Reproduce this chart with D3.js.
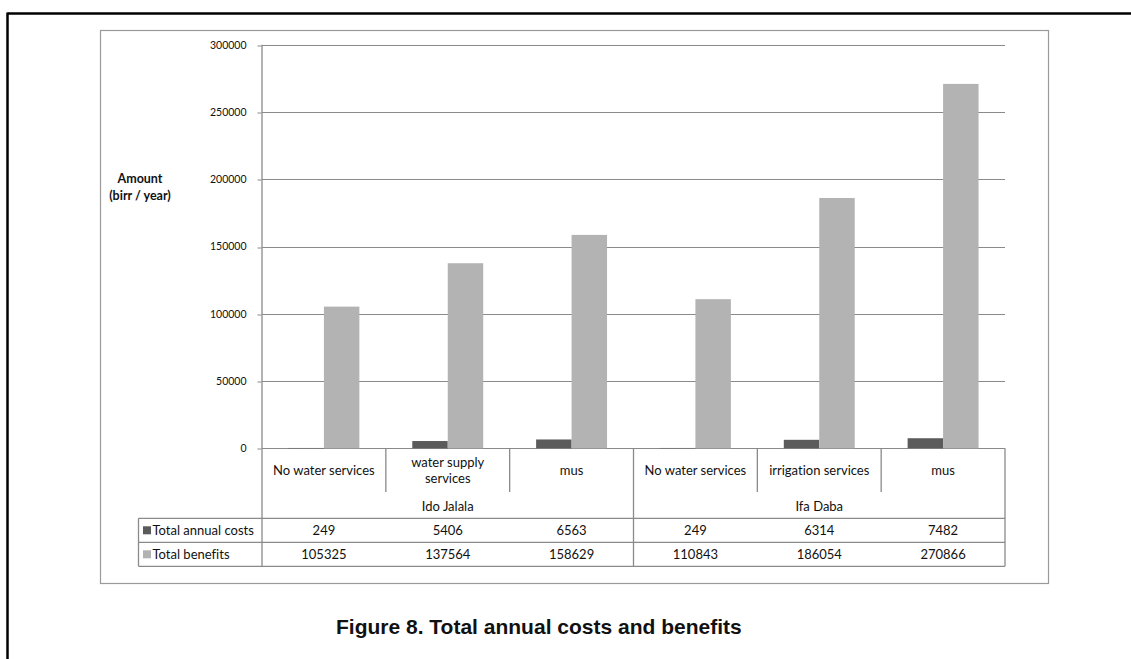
<!DOCTYPE html>
<html>
<head>
<meta charset="utf-8">
<script src="https://cdn.jsdelivr.net/npm/d3@7"></script>
<style>
  html, body { margin: 0; padding: 0; background: #fff; }
  svg { display: block; }
  text { font-family: Lato, "Open Sans", sans-serif; fill: #111; font-variant-ligatures: none; }
</style>
</head>
<body>
<svg id="chart" width="1131" height="659"></svg>
<script>
// Sites (groups) and the scenarios within each
const groups = ["Ido Jalala", "Ifa Daba"];
const categories = [
  ["No water services"],
  ["water supply", "services"],
  ["mus"],
  ["No water services"],
  ["irrigation services"],
  ["mus"]
];
const categoryGroup = [0, 0, 0, 1, 1, 1];
const seriesNames = ["Total annual costs", "Total benefits"];
const totalAnnualCosts = [249, 5406, 6563, 249, 6314, 7482];
const totalBenefits = [105325, 137564, 158629, 110843, 186054, 270866];
const yTicks = [0, 50000, 100000, 150000, 200000, 250000, 300000];
const colors = ["#5b5b5b", "#b3b3b3"];

const svg = d3.select("#chart");

// page frame (top and left rules)
svg.append("line").attr("x1", 7.5).attr("x2", 1131).attr("y1", 13.5).attr("y2", 13.5)
  .attr("stroke", "#000").attr("stroke-width", 2.5);
svg.append("line").attr("x1", 7.5).attr("x2", 7.5).attr("y1", 12.5).attr("y2", 659)
  .attr("stroke", "#000").attr("stroke-width", 2.5);

// chart area border
svg.append("rect").attr("x", 100.5).attr("y", 30.5).attr("width", 948).attr("height", 553)
  .attr("fill", "none").attr("stroke", "#9a9a9a").attr("stroke-width", 1.2);

const plotL = 262, plotR = 1005, plotT = 44.7, plotB = 448.3;
const y = d3.scaleLinear().domain([0, 300000]).range([plotB, plotT]);
const x = d3.scaleBand().domain(d3.range(categories.length)).range([plotL, plotR]).padding(0);
const xs = d3.scaleBand().domain([0, 1]).range([0, x.bandwidth()]).paddingOuter(0.746).paddingInner(0);

const lineColor = "#8a8a8a";

// gridlines
svg.append("g").selectAll("line").data(yTicks).join("line")
  .attr("x1", plotL).attr("x2", plotR)
  .attr("y1", d => Math.round(y(d)) + 0.5).attr("y2", d => Math.round(y(d)) + 0.5)
  .attr("stroke", lineColor).attr("stroke-width", 1);

// y axis with labels
const yAxis = d3.axisLeft(y).tickValues(yTicks).tickSize(4).tickPadding(11)
  .tickFormat(d3.format("d"));
const yg = svg.append("g").attr("transform", `translate(${plotL - 0.5},0)`).call(yAxis);
yg.select(".domain").remove();
yg.selectAll(".tick line").attr("stroke", lineColor)
  .attr("transform", d => `translate(0,${Math.round(y(d)) + 0.5 - y(d)})`);
yg.selectAll(".tick text").attr("font-family", "Lato, sans-serif").attr("font-size", 10.5)
  .attr("fill", "#111");

// bars
const series = [totalAnnualCosts, totalBenefits];
series.forEach((vals, si) => {
  svg.append("g").selectAll("rect").data(vals).join("rect")
    .attr("x", (d, i) => x(i) + xs(si))
    .attr("width", xs.bandwidth())
    .attr("y", d => y(d))
    .attr("height", d => plotB - y(d))
    .attr("fill", colors[si]);
});

// axis title
const title = svg.append("text").attr("text-anchor", "middle").attr("font-weight", "bold")
  .attr("font-size", 12.5);
title.append("tspan").attr("x", 140).attr("y", 183).text("Amount");
title.append("tspan").attr("x", 140).attr("y", 199.5).text("(birr / year)");

// data table below the axis
const rowCatBottom = 492, rowGroupBottom = 518.3, rowH = 24;
const legendL = 138.5;
const t = svg.append("g");
const L = (x1, y1, x2, y2) => t.append("line").attr("x1", x1).attr("y1", y1).attr("x2", x2).attr("y2", y2)
  .attr("stroke", lineColor).attr("stroke-width", 1.3);

// vertical axis line through the category rows
L(plotL, plotT, plotL, rowGroupBottom + 2 * rowH);
// category separators
d3.range(1, categories.length + 1).forEach(i => {
  const xx = i === categories.length ? plotR : x(i);
  const full = i === categories.length || categoryGroup[i] !== categoryGroup[i - 1];
  L(xx, plotB, xx, full ? rowGroupBottom + 2 * rowH : rowCatBottom);
});
// horizontal rules of the data rows
[rowGroupBottom, rowGroupBottom + rowH, rowGroupBottom + 2 * rowH].forEach(yy => L(legendL, yy, plotR, yy));
L(legendL, rowGroupBottom, legendL, rowGroupBottom + 2 * rowH);

const fs = 13;
// category labels
categories.forEach((lines, i) => {
  const cx = x(i) + x.bandwidth() / 2;
  const tt = t.append("text").attr("text-anchor", "middle").attr("font-size", fs);
  const startY = lines.length === 1 ? 475 : 466.5;
  lines.forEach((ln, k) => tt.append("tspan").attr("x", cx).attr("y", startY + k * 16.7).text(ln));
});

// group labels
groups.forEach((g, gi) => {
  const idx = categoryGroup.map((c, i) => c === gi ? i : -1).filter(i => i >= 0);
  const gx0 = x(idx[0]), gx1 = x(idx[idx.length - 1]) + x.bandwidth();
  t.append("text").attr("x", (gx0 + gx1) / 2).attr("y", 510.5).attr("text-anchor", "middle")
    .attr("font-size", fs).text(g);
});

// series rows: legend keys and values
series.forEach((vals, si) => {
  const ry = rowGroupBottom + si * rowH;
  t.append("rect").attr("x", 143).attr("y", ry + 8).attr("width", 8).attr("height", 8).attr("fill", colors[si]);
  t.append("text").attr("x", 152.5).attr("y", ry + 16.5).attr("font-size", fs).text(seriesNames[si]);
  vals.forEach((v, i) => {
    t.append("text").attr("x", x(i) + x.bandwidth() / 2).attr("y", ry + 17)
      .attr("text-anchor", "middle").attr("font-size", fs).text(v);
  });
});

// caption
svg.append("text").attr("x", 336).attr("y", 633.5)
  .style("font-family", "'Liberation Sans', Arial, sans-serif")
  .attr("font-weight", "bold").attr("font-size", 21).attr("fill", "#000")
  .text("Figure 8. Total annual costs and benefits");
</script>
</body>
</html>
